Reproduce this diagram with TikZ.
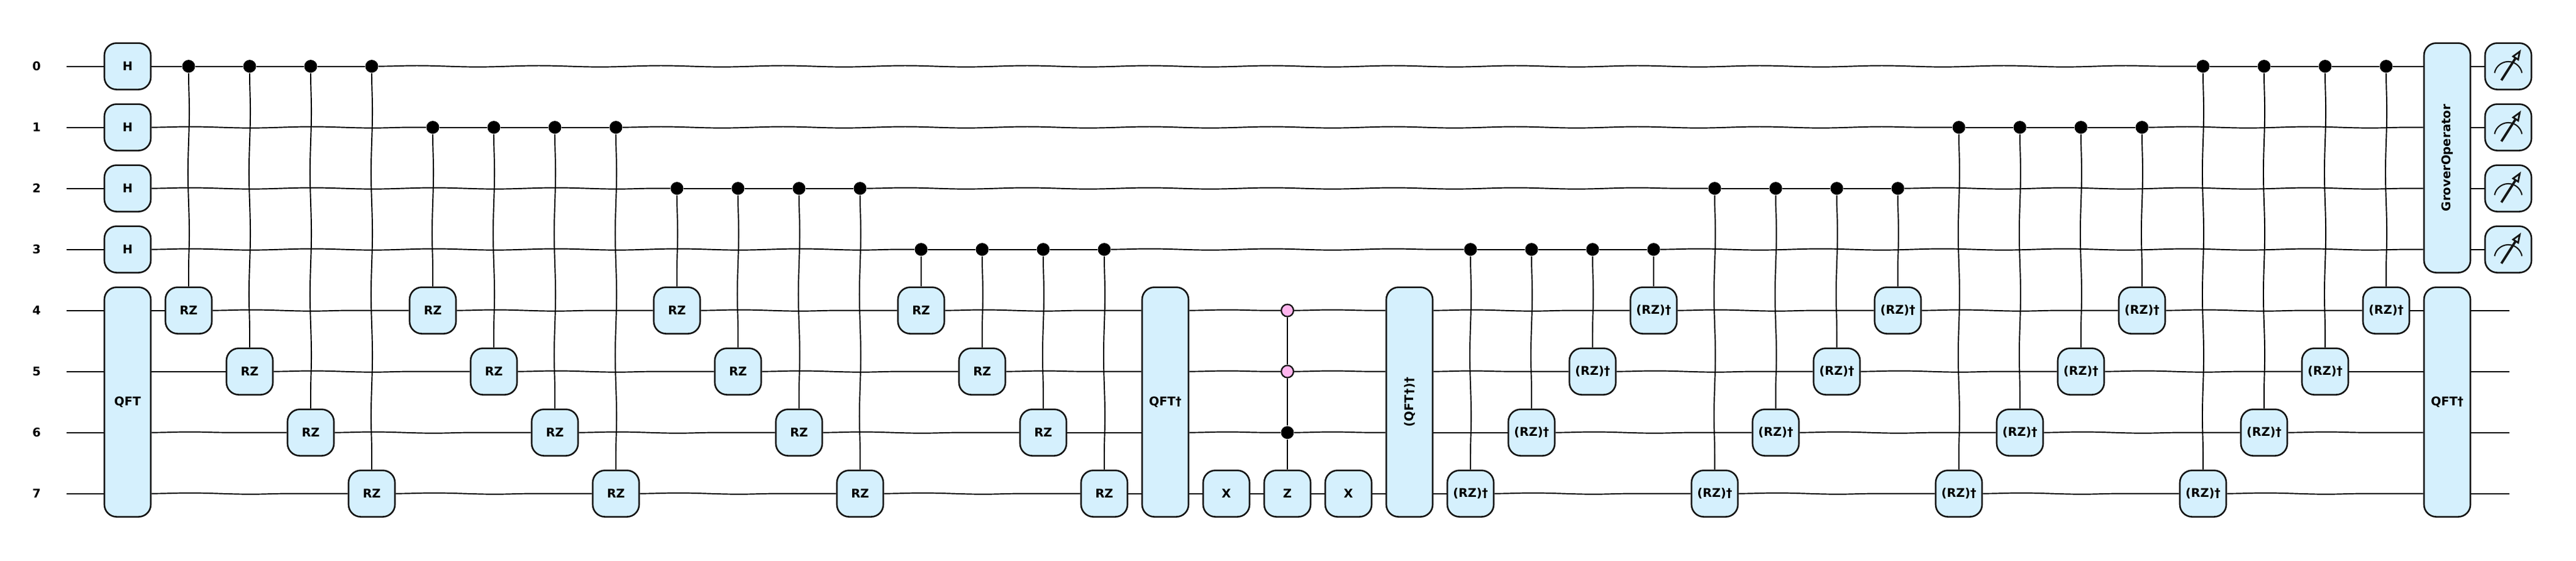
\documentclass[tikz,border=0pt]{standalone}
\usepackage{fontspec}
\setmainfont{DejaVu Sans}
\usetikzlibrary{arrows.meta,decorations.pathmorphing}
\definecolor{gatefill}{HTML}{D5F0FD}
\definecolor{openfill}{HTML}{FFB5EE}
\definecolor{edgeline}{HTML}{151515}
\tikzset{
    gate/.style={draw=edgeline, fill=gatefill, line width=.75pt, rounded corners=.2cm, minimum width=.76cm, minimum height=.76cm, inner sep=0pt, font=\fontsize{5.6}{6.7}\selectfont\bfseries},
    tall/.style={gate, minimum height=3.76cm},
    qlabel/.style={font=\fontsize{5.6}{6.7}\selectfont\bfseries, inner sep=0pt},
    ctrl/.style={circle, fill=black, minimum size=.21cm, inner sep=0pt},
    openctrl/.style={circle, draw=edgeline, fill=openfill, line width=.65pt, minimum size=.2cm, inner sep=0pt},
    wire/.style={line width=.55pt, decorate, decoration={snake, segment length=2cm, amplitude=.3pt}},
    dial/.style={line width=.6pt, edgeline},
    needle/.style={line width=1.1pt, edgeline, -{Triangle[open, length=1.8mm, width=1.3mm, line width=.8pt]}}
}
\begin{document}
\begin{tikzpicture}
    \useasboundingbox (0,1.086) rectangle (42.2,-8.104);

    \foreach \q in {0, ..., 7} {
        \node[qlabel] (l\q) at (.6,-\q) {\q};
        \coordinate (s\q) at (1.09,-\q);
    }
    \foreach \q in {0, ..., 3} {
        \node[gate] (H\q) at (2.09,-\q) {H};
        \node[gate] (m\q) at (41.09,-\q) {};
        \draw[dial] (m\q.center) ++(-.225,-.109) arc[start angle=169, end angle=11, radius=.229];
        \draw[needle] (m\q.center) ++(-.113,-.23) -- ++(.323,.506);
    }

    \node[tall] (QFTin) at (2.09,-5.5) {QFT};
    \node[tall] (QFTout) at (19.09,-5.5) {QFT†};
    \node[tall] (QFTundo) at (23.09,-5.5) {\rotatebox{90}{(QFT†)†}};
    \node[tall] (QFTend) at (40.09,-5.5) {QFT†};
    \node[tall] (Grover) at (40.09,-1.5) {\rotatebox{90}{GroverOperator}};

    \foreach \q in {0, ..., 3} {
        \coordinate (Gw\q) at (Grover.west |- s\q);
        \coordinate (Ge\q) at (Grover.east |- s\q);
    }
    \foreach \q in {4, ..., 7} {
        \coordinate (Aw\q) at (QFTin.west |- s\q);
        \coordinate (Ae\q) at (QFTin.east |- s\q);
        \coordinate (Bw\q) at (QFTout.west |- s\q);
        \coordinate (Be\q) at (QFTout.east |- s\q);
        \coordinate (Cw\q) at (QFTundo.west |- s\q);
        \coordinate (Ce\q) at (QFTundo.east |- s\q);
        \coordinate (Dw\q) at (QFTend.west |- s\q);
        \coordinate (De\q) at (QFTend.east |- s\q);
        \coordinate (e\q) at (41.11,-\q);
    }

    \foreach \c [evaluate=\c as \q using {int((\c-1)/4)}, evaluate=\c as \t using {int(4+mod(\c-1,4))}] in {1, ..., 16} {
        \node[ctrl] (d\c) at (2.09+\c,-\q) {};
        \node[gate] (g\c) at (2.09+\c,-\t) {RZ};
    }
    \foreach \c [evaluate=\c as \q using {int(3-int((\c-22)/4))}, evaluate=\c as \t using {int(7-mod(\c-22,4))}] in {22, ..., 37} {
        \node[ctrl] (d\c) at (2.09+\c,-\q) {};
        \node[gate] (g\c) at (2.09+\c,-\t) {(RZ)†};
    }

    \node[gate] (g18) at (20.09,-7) {X};
    \node[gate] (g19) at (21.09,-7) {Z};
    \node[gate] (g20) at (22.09,-7) {X};
    \node[openctrl] (o4) at (21.09,-4) {};
    \node[openctrl] (o5) at (21.09,-5) {};
    \node[ctrl] (d19) at (21.09,-6) {};

    \foreach \n [remember=\n as \p (initially s0)] in {H0, d1, d2, d3, d4, d34, d35, d36, d37, Gw0} {
        \draw[wire] (\p) -- (\n);
    }
    \foreach \n [remember=\n as \p (initially s1)] in {H1, d5, d6, d7, d8, d30, d31, d32, d33, Gw1} {
        \draw[wire] (\p) -- (\n);
    }
    \foreach \n [remember=\n as \p (initially s2)] in {H2, d9, d10, d11, d12, d26, d27, d28, d29, Gw2} {
        \draw[wire] (\p) -- (\n);
    }
    \foreach \n [remember=\n as \p (initially s3)] in {H3, d13, d14, d15, d16, d22, d23, d24, d25, Gw3} {
        \draw[wire] (\p) -- (\n);
    }
    \foreach \q in {0, ..., 3} {
        \draw[wire] (Ge\q) -- (m\q);
    }

    \foreach \n [remember=\n as \p (initially Ae4)] in {g1, g5, g9, g13, Bw4} {
        \draw[wire] (\p) -- (\n);
    }
    \foreach \n [remember=\n as \p (initially Ae5)] in {g2, g6, g10, g14, Bw5} {
        \draw[wire] (\p) -- (\n);
    }
    \foreach \n [remember=\n as \p (initially Ae6)] in {g3, g7, g11, g15, Bw6} {
        \draw[wire] (\p) -- (\n);
    }
    \foreach \n [remember=\n as \p (initially Ae7)] in {g4, g8, g12, g16, Bw7} {
        \draw[wire] (\p) -- (\n);
    }

    \foreach \n [remember=\n as \p (initially Be4)] in {o4, Cw4} {
        \draw[wire] (\p) -- (\n);
    }
    \foreach \n [remember=\n as \p (initially Be5)] in {o5, Cw5} {
        \draw[wire] (\p) -- (\n);
    }
    \foreach \n [remember=\n as \p (initially Be6)] in {d19, Cw6} {
        \draw[wire] (\p) -- (\n);
    }
    \foreach \n [remember=\n as \p (initially Be7)] in {g18, g19, g20, Cw7} {
        \draw[wire] (\p) -- (\n);
    }

    \foreach \n [remember=\n as \p (initially Ce4)] in {g25, g29, g33, g37, Dw4} {
        \draw[wire] (\p) -- (\n);
    }
    \foreach \n [remember=\n as \p (initially Ce5)] in {g24, g28, g32, g36, Dw5} {
        \draw[wire] (\p) -- (\n);
    }
    \foreach \n [remember=\n as \p (initially Ce6)] in {g23, g27, g31, g35, Dw6} {
        \draw[wire] (\p) -- (\n);
    }
    \foreach \n [remember=\n as \p (initially Ce7)] in {g22, g26, g30, g34, Dw7} {
        \draw[wire] (\p) -- (\n);
    }

    \foreach \q in {4, ..., 7} {
        \draw[wire] (s\q) -- (Aw\q);
        \draw[wire] (De\q) -- (e\q);
    }

    \foreach \c in {1, ..., 16, 22, 23, ..., 37} {
        \draw[wire] (d\c) -- (g\c);
    }
    \foreach \n [remember=\n as \p (initially o4)] in {o5, d19, g19} {
        \draw[wire] (\p) -- (\n);
    }
\end{tikzpicture}
\end{document}
